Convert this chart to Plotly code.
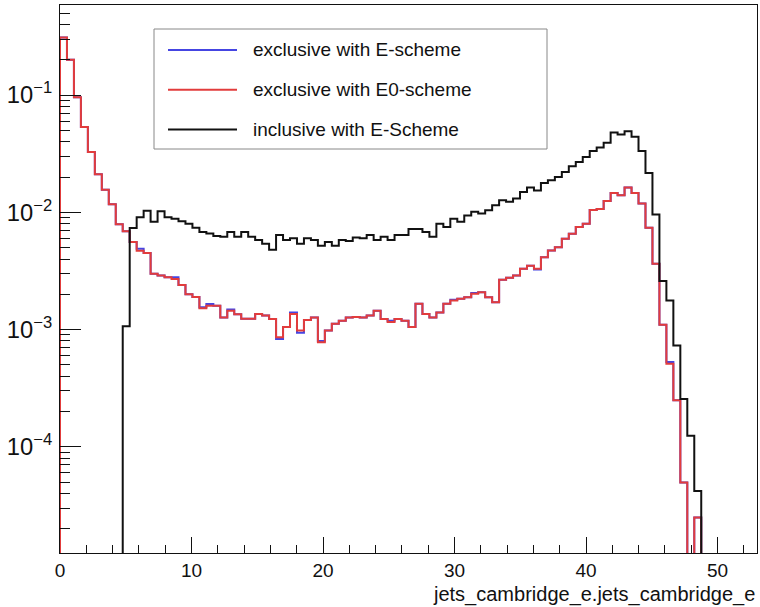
import numpy as np
import plotly.graph_objects as go

# ---------------- data (100 bins, 0 .. 53) ----------------
x_min, x_max, n_bins = 0.0, 53.0, 100

excl_E0 = [
    0.311, 0.200, 0.096, 0.0536, 0.0327, 0.0211, 0.0156, 0.0117, 0.0079, 0.0069,
    0.0056, 0.0047, 0.0045, 0.0030, 0.0029, 0.0028, 0.0027, 0.0024, 0.0020, 0.0019,
    0.00152, 0.0016, 0.0016, 0.00127, 0.00145, 0.00135, 0.00124, 0.00124, 0.00136, 0.00132,
    0.00123, 0.00086, 0.00105, 0.00136, 0.00098, 0.00121, 0.00127, 0.00078, 0.00098, 0.00112,
    0.00119, 0.00127, 0.00128, 0.00127, 0.00132, 0.00145, 0.00123, 0.00116, 0.00123, 0.00119,
    0.00105, 0.00166, 0.00136, 0.00127, 0.00140, 0.00166, 0.00177, 0.00183, 0.00189, 0.00202,
    0.00208, 0.00189, 0.00171, 0.00266, 0.00277, 0.0029, 0.0033, 0.0035, 0.0033, 0.00415,
    0.00473, 0.00505, 0.00596, 0.00658, 0.0075, 0.0080, 0.0105, 0.0107, 0.0125, 0.0146,
    0.0140, 0.0163, 0.0146, 0.0119, 0.0074, 0.00364, 0.00110, 0.00051, 0.000250, 0.0000496,
    0.0, 0.0000249, 0.0, 0.0, 0.0, 0.0, 0.0, 0.0, 0.0, 0.0,
]

excl_E = [
    0.311, 0.200, 0.096, 0.0536, 0.0327, 0.0211, 0.0156, 0.0117, 0.0079, 0.0069,
    0.0056, 0.0049, 0.0045, 0.0030, 0.0029, 0.0028, 0.0028, 0.0024, 0.0020, 0.0019,
    0.00155, 0.00165, 0.0016, 0.00127, 0.00148, 0.00135, 0.00124, 0.00124, 0.00136, 0.00132,
    0.00123, 0.00083, 0.00105, 0.00140, 0.00094, 0.00121, 0.00127, 0.00080, 0.00098, 0.00112,
    0.00119, 0.00127, 0.00128, 0.00127, 0.00132, 0.00145, 0.00123, 0.00119, 0.00123, 0.00119,
    0.00105, 0.00166, 0.00136, 0.00127, 0.00140, 0.00166, 0.00180, 0.00183, 0.00189, 0.00205,
    0.00208, 0.00189, 0.00171, 0.00266, 0.00277, 0.0029, 0.0033, 0.0035, 0.00325, 0.00415,
    0.00473, 0.00505, 0.00596, 0.00658, 0.0075, 0.0080, 0.0105, 0.0107, 0.0125, 0.0146,
    0.0140, 0.0163, 0.0146, 0.0119, 0.0074, 0.00364, 0.00110, 0.00053, 0.000250, 0.0000496,
    0.0, 0.0000249, 0.0, 0.0, 0.0, 0.0, 0.0, 0.0, 0.0, 0.0,
]

incl_E = [
    0.0, 0.0, 0.0, 0.0, 0.0, 0.0, 0.0, 0.0, 0.0, 0.00107,
    0.00734, 0.0091, 0.0103, 0.0083, 0.0102, 0.0091, 0.0088, 0.0084, 0.0080, 0.0074,
    0.0068, 0.0066, 0.0063, 0.0062, 0.0068, 0.0062, 0.0068, 0.0062, 0.0058, 0.0054,
    0.0048, 0.0064, 0.0058, 0.0060, 0.0054, 0.0060, 0.0058, 0.0052, 0.0056, 0.0052,
    0.0058, 0.0057, 0.0061, 0.0060, 0.0064, 0.0058, 0.0062, 0.0058, 0.0064, 0.0064,
    0.0072, 0.0072, 0.0068, 0.0062, 0.0080, 0.0075, 0.0088, 0.0083, 0.0094, 0.0101,
    0.0098, 0.0104, 0.0115, 0.0127, 0.0123, 0.0131, 0.0149, 0.0163, 0.0154, 0.0178,
    0.0188, 0.0200, 0.0221, 0.0247, 0.0269, 0.0297, 0.0334, 0.0357, 0.0392, 0.0480,
    0.0461, 0.0492, 0.0441, 0.0334, 0.0217, 0.0096, 0.0026, 0.00177, 0.00073, 0.000256,
    0.000124, 0.000042, 0.0, 0.0, 0.0, 0.0, 0.0, 0.0, 0.0, 0.0,
]

series_names = ["exclusive with E-scheme", "exclusive with E0-scheme", "inclusive with E-Scheme"]
series_vals = [excl_E, excl_E0, incl_E]
series_colors = ["#4545E2", "#E23C3C", "#111111"]

x_title = "jets_cambridge_e.jets_cambridge_e"
y_log_range = [-4.906, -0.231]

# ---------------- figure ----------------
edges = np.linspace(x_min, x_max, n_bins + 1)
floor = 10 ** (y_log_range[0] - 2)


def step_xy(vals):
    v = np.asarray(vals, dtype=float)
    v = np.where(v > 0, v, floor)
    xs = np.concatenate([[edges[0]], edges[:-1], [edges[-1]], [edges[-1]]])
    ys = np.concatenate([[floor], v, [v[-1]], [floor]])
    return xs, ys


fig = go.Figure()
for name, vals, col in zip(series_names, series_vals, series_colors):
    xs, ys = step_xy(vals)
    fig.add_trace(go.Scatter(x=xs, y=ys, mode="lines", name=name,
                             line=dict(color=col, width=2, shape="hv"),
                             showlegend=False, hoverinfo="skip"))

FONT = "Liberation Sans, Arial, Helvetica, sans-serif"
L, R, T, B = 60, 3, 5, 54
W, H = 760, 607
pw, ph = W - L - R, H - T - B


def px2paper(px, py):
    return (px - L) / pw, (H - B - py) / ph


# manual ROOT-style legend
bx0, by0 = px2paper(154, 29)
bx1, by1 = px2paper(547, 149)
fig.add_shape(type="rect", xref="paper", yref="paper", x0=bx0, y0=by1, x1=bx1, y1=by0,
              line=dict(color="#888888", width=1), fillcolor="white", layer="above")
for i, (name, col) in enumerate(zip(series_names, series_colors)):
    ypx = 50 + i * 39.7
    lx0, ly = px2paper(168, ypx)
    lx1, _ = px2paper(237, ypx)
    fig.add_shape(type="line", xref="paper", yref="paper", x0=lx0, x1=lx1, y0=ly, y1=ly,
                  line=dict(color=col, width=2), layer="above")
    tx, _ = px2paper(251, ypx)
    fig.add_annotation(xref="paper", yref="paper", x=tx, y=ly, text=name, showarrow=False,
                       xanchor="left", yanchor="middle",
                       font=dict(family=FONT, size=19, color="#111111"))

# x-axis title, right-aligned (ROOT style)
tx, ty = px2paper(757, 594)
fig.add_annotation(xref="paper", yref="paper", x=tx, y=ty, text=x_title, showarrow=False,
                   xanchor="right", yanchor="middle",
                   font=dict(family=FONT, size=20, color="#111111"))

fig.update_layout(
    width=W, height=H,
    margin=dict(l=L, r=R, t=T, b=B, pad=0),
    paper_bgcolor="white", plot_bgcolor="white",
    showlegend=False,
    font=dict(family=FONT, color="#111111"),
)
fig.update_xaxes(
    range=[x_min, x_max], dtick=10, tick0=0,
    ticks="inside", ticklen=16, tickwidth=1, tickcolor="#111111",
    minor=dict(dtick=2, tick0=0, ticks="inside", ticklen=8, tickwidth=1, tickcolor="#111111", showgrid=False),
    showgrid=False, zeroline=False,
    showline=True, mirror=True, linecolor="#111111", linewidth=1,
    tickfont=dict(family=FONT, size=19, color="#111111"),
    ticklabelstandoff=0,
)
fig.update_yaxes(
    type="log", range=y_log_range, dtick=1,
    exponentformat="power", showexponent="all",
    ticks="inside", ticklen=21, tickwidth=1, tickcolor="#111111",
    minor=dict(dtick="D1", ticks="inside", ticklen=10, tickwidth=1, tickcolor="#111111", showgrid=False),
    showgrid=False, zeroline=False,
    showline=True, mirror=True, linecolor="#111111", linewidth=1,
    tickfont=dict(family=FONT, size=19, color="#111111"),
    ticklabelstandoff=3,
)

fig.write_html("out.html")
